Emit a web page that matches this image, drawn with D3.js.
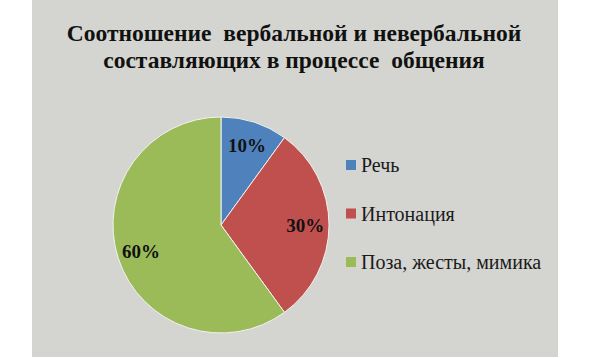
<!DOCTYPE html>
<html><head><meta charset="utf-8">
<script src="https://cdn.jsdelivr.net/npm/d3@7"></script>
<style>
html,body{margin:0;padding:0;background:#fff;}
text{white-space:pre;}
</style></head>
<body>
<svg id="c" width="591" height="358"></svg>
<script>
const titleLines = ["Соотношение  вербальной и невербальной", "составляющих в процессе  общения"];
const categories = ["Речь", "Интонация", "Поза, жесты, мимика"];
const values = [10, 30, 60];
const labels = ["10%", "30%", "60%"];
const colors = ["#4f81bd", "#c0504d", "#9bbb59"];

const svg = d3.select("#c");
svg.append("rect").attr("x", 32).attr("y", 0).attr("width", 526).attr("height", 357).attr("fill", "#d4d5d0");

const serif = "'Liberation Serif', 'DejaVu Serif', serif";
svg.selectAll("text.title").data(titleLines).enter().append("text")
  .attr("class", "title")
  .attr("x", 294).attr("y", (d, i) => 41 + i * 27)
  .attr("text-anchor", "middle")
  .attr("font-family", serif).attr("font-weight", "bold").attr("font-size", 23.5)
  .attr("fill", "#111").text(d => d);

const cx = 221, cy = 225, r = 108;
const pie = d3.pie().sort(null).value(d => d);
const arc = d3.arc().innerRadius(0).outerRadius(r);
const g = svg.append("g").attr("transform", `translate(${cx},${cy})`);
const arcs = pie(values);
g.selectAll("path").data(arcs).enter().append("path")
  .attr("d", arc).attr("fill", (d, i) => colors[i])
  .attr("stroke", "#f2f2ee").attr("stroke-width", 1);

const labelArc = d3.arc().innerRadius(r * 0.78).outerRadius(r * 0.78);
g.selectAll("text.lbl").data(arcs).enter().append("text")
  .attr("class", "lbl")
  .attr("transform", d => { const p = labelArc.centroid(d); return `translate(${p[0]},${p[1]})`; })
  .attr("text-anchor", "middle").attr("dy", "0.35em")
  .attr("font-family", serif).attr("font-weight", "bold").attr("font-size", 19)
  .attr("fill", "#111").text((d, i) => labels[i]);

const y = d3.scalePoint().domain(categories).range([165, 262]);
const lg = svg.append("g");
lg.selectAll("rect").data(categories).enter().append("rect")
  .attr("x", 346).attr("y", d => y(d) - 5).attr("width", 10).attr("height", 10)
  .attr("fill", (d, i) => colors[i]);
lg.selectAll("text").data(categories).enter().append("text")
  .attr("x", 361).attr("y", d => y(d)).attr("dy", "0.35em")
  .attr("font-family", serif).attr("font-size", 20)
  .attr("fill", "#1a1a1a").text(d => d);
</script>
</body></html>
